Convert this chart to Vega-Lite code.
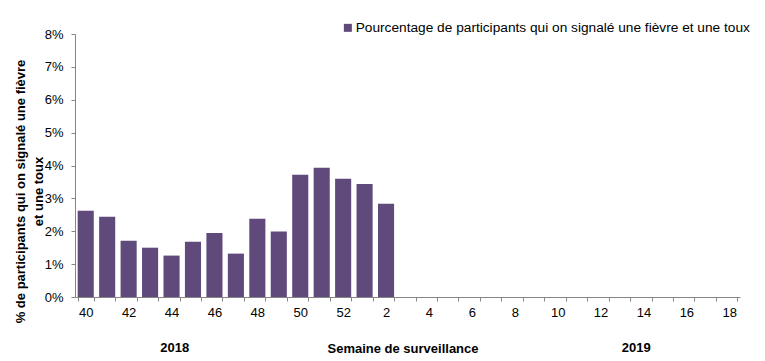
{
  "$schema": "https://vega.github.io/schema/vega-lite/v6.json",
  "width": 665,
  "height": 263,
  "autosize": {"type": "none"},
  "padding": {"left": 75, "top": 34, "right": 25, "bottom": 64},
  "background": "white",
  "config": {
    "view": {"stroke": null},
    "font": "Liberation Sans",
    "axis": {"labelFont": "Liberation Sans", "titleFont": "Liberation Sans"},
    "axisY": {
      "labelOverlap": false,
      "labelFlush": false,
      "labelFontSize": 13,
      "labelColor": "#000000",
      "labelPadding": 8,
      "tickSize": 4,
      "tickColor": "#868686",
      "domainColor": "#868686",
      "grid": false,
      "titleFontWeight": "bold",
      "titleFontSize": 13,
      "titleColor": "#000000",
      "titleLineHeight": 18,
      "titleX": -55,
      "titleY": 157,
      "titleAngle": -90,
      "titleAlign": "center",
      "titleBaseline": "middle"
    }
  },
  "layer": [
    {
      "data": {
        "values": [
          {"week": "40", "pct": 2.62, "serie": "Pourcentage de participants qui on signalé une fièvre et une toux"},
          {"week": "41", "pct": 2.44, "serie": "Pourcentage de participants qui on signalé une fièvre et une toux"},
          {"week": "42", "pct": 1.71, "serie": "Pourcentage de participants qui on signalé une fièvre et une toux"},
          {"week": "43", "pct": 1.50, "serie": "Pourcentage de participants qui on signalé une fièvre et une toux"},
          {"week": "44", "pct": 1.26, "serie": "Pourcentage de participants qui on signalé une fièvre et une toux"},
          {"week": "45", "pct": 1.68, "serie": "Pourcentage de participants qui on signalé une fièvre et une toux"},
          {"week": "46", "pct": 1.95, "serie": "Pourcentage de participants qui on signalé une fièvre et une toux"},
          {"week": "47", "pct": 1.32, "serie": "Pourcentage de participants qui on signalé une fièvre et une toux"},
          {"week": "48", "pct": 2.38, "serie": "Pourcentage de participants qui on signalé une fièvre et une toux"},
          {"week": "49", "pct": 1.99, "serie": "Pourcentage de participants qui on signalé une fièvre et une toux"},
          {"week": "50", "pct": 3.72, "serie": "Pourcentage de participants qui on signalé une fièvre et une toux"},
          {"week": "51", "pct": 3.93, "serie": "Pourcentage de participants qui on signalé une fièvre et une toux"},
          {"week": "52", "pct": 3.60, "serie": "Pourcentage de participants qui on signalé une fièvre et une toux"},
          {"week": "1", "pct": 3.44, "serie": "Pourcentage de participants qui on signalé une fièvre et une toux"},
          {"week": "2", "pct": 2.84, "serie": "Pourcentage de participants qui on signalé une fièvre et une toux"}
        ]
      },
      "mark": {"type": "bar"},
      "encoding": {
        "x": {
          "field": "week",
          "type": "ordinal",
          "scale": {
            "domain": ["40","41","42","43","44","45","46","47","48","49","50","51","52","1","2","3","4","5","6","7","8","9","10","11","12","13","14","15","16","17","18"],
            "paddingInner": 0.25,
            "paddingOuter": 0.125
          },
          "axis": {
            "title": "Semaine de surveillance",
            "titleFontWeight": "bold",
            "titleFontSize": 13,
            "titleColor": "#000000",
            "titleX": 327.5,
            "titleY": 55,
            "titleBaseline": "alphabetic",
            "titleAlign": "center",
            "labelAngle": 0,
            "labelExpr": "toNumber(datum.value) % 2 == 0 ? datum.value : ''",
            "labelFontSize": 13,
            "labelColor": "#000000",
            "labelPadding": 5,
            "labelOverlap": false,
            "tickBand": "extent",
            "tickSize": 4,
            "tickColor": "#868686",
            "domainColor": "#868686",
            "grid": false
          }
        },
        "y": {
          "field": "pct",
          "type": "quantitative",
          "scale": {"domain": [0, 8], "nice": false},
          "axis": {
            "values": [0, 1, 2, 3, 4, 5, 6, 7, 8],
            "labelExpr": "datum.value + '%'",
            "title": ["%  de participants qui on signalé une fièvre", "et une toux"]
          }
        },
        "color": {
          "field": "serie",
          "type": "nominal",
          "scale": {"range": ["#604A7B"]},
          "legend": {
            "title": null,
            "orient": "none",
            "legendX": 266,
            "legendY": -13,
            "symbolType": "square",
            "symbolSize": 64,
            "symbolStrokeWidth": 0,
            "labelFontSize": 13.7,
            "labelColor": "#000000",
            "labelFont": "Liberation Sans",
            "labelOffset": 1,
            "labelLimit": 500
          }
        }
      }
    },
    {
      "data": {"values": [{"week": "44", "label": "2018"}]},
      "mark": {"type": "text", "fontWeight": "bold", "fontSize": 13, "font": "Liberation Sans", "color": "#000000", "baseline": "alphabetic", "align": "center"},
      "encoding": {
        "x": {"field": "week", "type": "ordinal", "bandPosition": 0.7},
        "y": {
          "datum": -1.673,
          "type": "quantitative",
          "axis": {
            "values": [0, 1, 2, 3, 4, 5, 6, 7, 8],
            "labelExpr": "datum.value + '%'",
            "title": ["%  de participants qui on signalé une fièvre", "et une toux"]
          }
        },
        "text": {"field": "label"}
      }
    },
    {
      "data": {"values": [{"week": "14", "label": "2019"}]},
      "mark": {"type": "text", "fontWeight": "bold", "fontSize": 13, "font": "Liberation Sans", "color": "#000000", "baseline": "alphabetic", "align": "center"},
      "encoding": {
        "x": {"field": "week", "type": "ordinal", "bandPosition": 0.05},
        "y": {
          "datum": -1.673,
          "type": "quantitative",
          "axis": {
            "values": [0, 1, 2, 3, 4, 5, 6, 7, 8],
            "labelExpr": "datum.value + '%'",
            "title": ["%  de participants qui on signalé une fièvre", "et une toux"]
          }
        },
        "text": {"field": "label"}
      }
    }
  ]
}
